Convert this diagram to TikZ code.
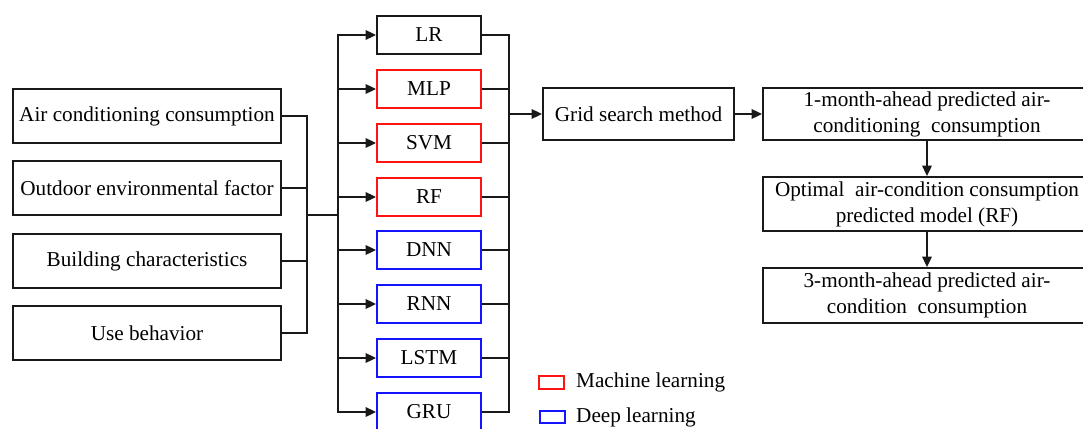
\documentclass[tikz,border=0pt]{standalone}
\usepackage{fontspec}
\setmainfont{Liberation Serif}
\usetikzlibrary{arrows.meta}
\definecolor{mlred}{RGB}{255,20,20}
\definecolor{dlblue}{RGB}{20,20,255}
\definecolor{ink}{RGB}{25,25,25}
\tikzset{
  lw/.style={line width=1.8pt},
  box/.style={draw=ink, lw, rectangle, inner sep=0pt, align=center,
    font=\fontsize{21.2}{26}\selectfont},
  factor/.style={box, minimum width=268pt, minimum height=54pt},
  model/.style={box, minimum width=104pt, minimum height=38pt},
  mlbox/.style={model, draw=mlred},
  dlbox/.style={model, draw=dlblue},
  wide/.style={box, minimum width=328pt},
  link/.style={lw, draw=ink},
  arr/.style={link, -{Triangle[length=10.5pt,width=9.5pt]}},
  key/.style={draw, line width=1.8pt, minimum width=25pt, inner sep=0pt},
  keytext/.style={anchor=west, inner sep=0pt, font=\fontsize{21.2}{26}\selectfont}
}
\begin{document}
\begin{tikzpicture}[x=1pt, y=-1pt]
\useasboundingbox (0,0) rectangle (1083,428);

% input factors
\node[factor] (air) at (147,116) {Air conditioning consumption};
\node[factor] (out) at (147,188) {Outdoor environmental factor};
\node[factor] (bld) at (147,261) {Building characteristics};
\node[factor] (use) at (147,333) {Use behavior};

% candidate models
\node[model]  (lr)   at (429,35)  {LR};
\node[mlbox]  (mlp)  at (429,89)  {MLP};
\node[mlbox]  (svm)  at (429,143) {SVM};
\node[mlbox]  (rf)   at (429,197) {RF};
\node[dlbox]  (dnn)  at (429,250) {DNN};
\node[dlbox]  (rnn)  at (429,304) {RNN};
\node[dlbox]  (lstm) at (429,358) {LSTM};
\node[dlbox]  (gru)  at (429,412) {GRU};

% tuning and prediction chain
\node[box, minimum width=191pt, minimum height=52pt] (grid) at (638.5,114) {Grid search method};
\node[wide, minimum height=52pt] (m1)  at (927,114)   {1-month-ahead predicted air-\\conditioning\ \ consumption};
\node[wide, minimum height=54pt] (opt) at (927,204)   {Optimal\ \ air-condition consumption\\predicted model (RF)};
\node[wide, minimum height=55pt] (m3)  at (927,295.5) {3-month-ahead predicted air-\\condition\ \ consumption};

% bus junctions
\coordinate (lbus) at (307,215);
\coordinate (mbus) at (338,215);
\coordinate (rbus) at (509,114);

% factors into the left bus
\draw[link] (air.east) -| (lbus);
\draw[link] (use.east) -| (lbus);
\draw[link] (out.east) -- (out.east -| lbus);
\draw[link] (bld.east) -- (bld.east -| lbus);
\draw[link] (lbus) -- (mbus);

% bus fanning out to each model
\foreach \m in {lr,mlp,svm,rf,dnn,rnn,lstm,gru}
  \draw[arr] (mbus) |- (\m.west);

% models gathered on the right bus
\draw[link] (lr.east) -| (rbus);
\draw[link] (gru.east) -| (rbus);
\foreach \m in {mlp,svm,rf,dnn,rnn,lstm}
  \draw[link] (\m.east) -- (\m.east -| rbus);

\draw[arr] (rbus) -- (grid.west);
\draw[arr] (grid.east) -- (m1.west);
\draw[arr] (m1.south) -- (opt.north);
\draw[arr] (opt.south) -- (m3.north);

% legend
\node[key, draw=mlred, minimum height=13pt]  (kml) at (551.5,382.5) {};
\node[keytext] (tml) at (576,382.5) {Machine learning};
\node[key, draw=dlblue, minimum height=12pt] (kdl) at (552.5,417) {};
\node[keytext] (tdl) at (576,417) {Deep learning};
\end{tikzpicture}
\end{document}
